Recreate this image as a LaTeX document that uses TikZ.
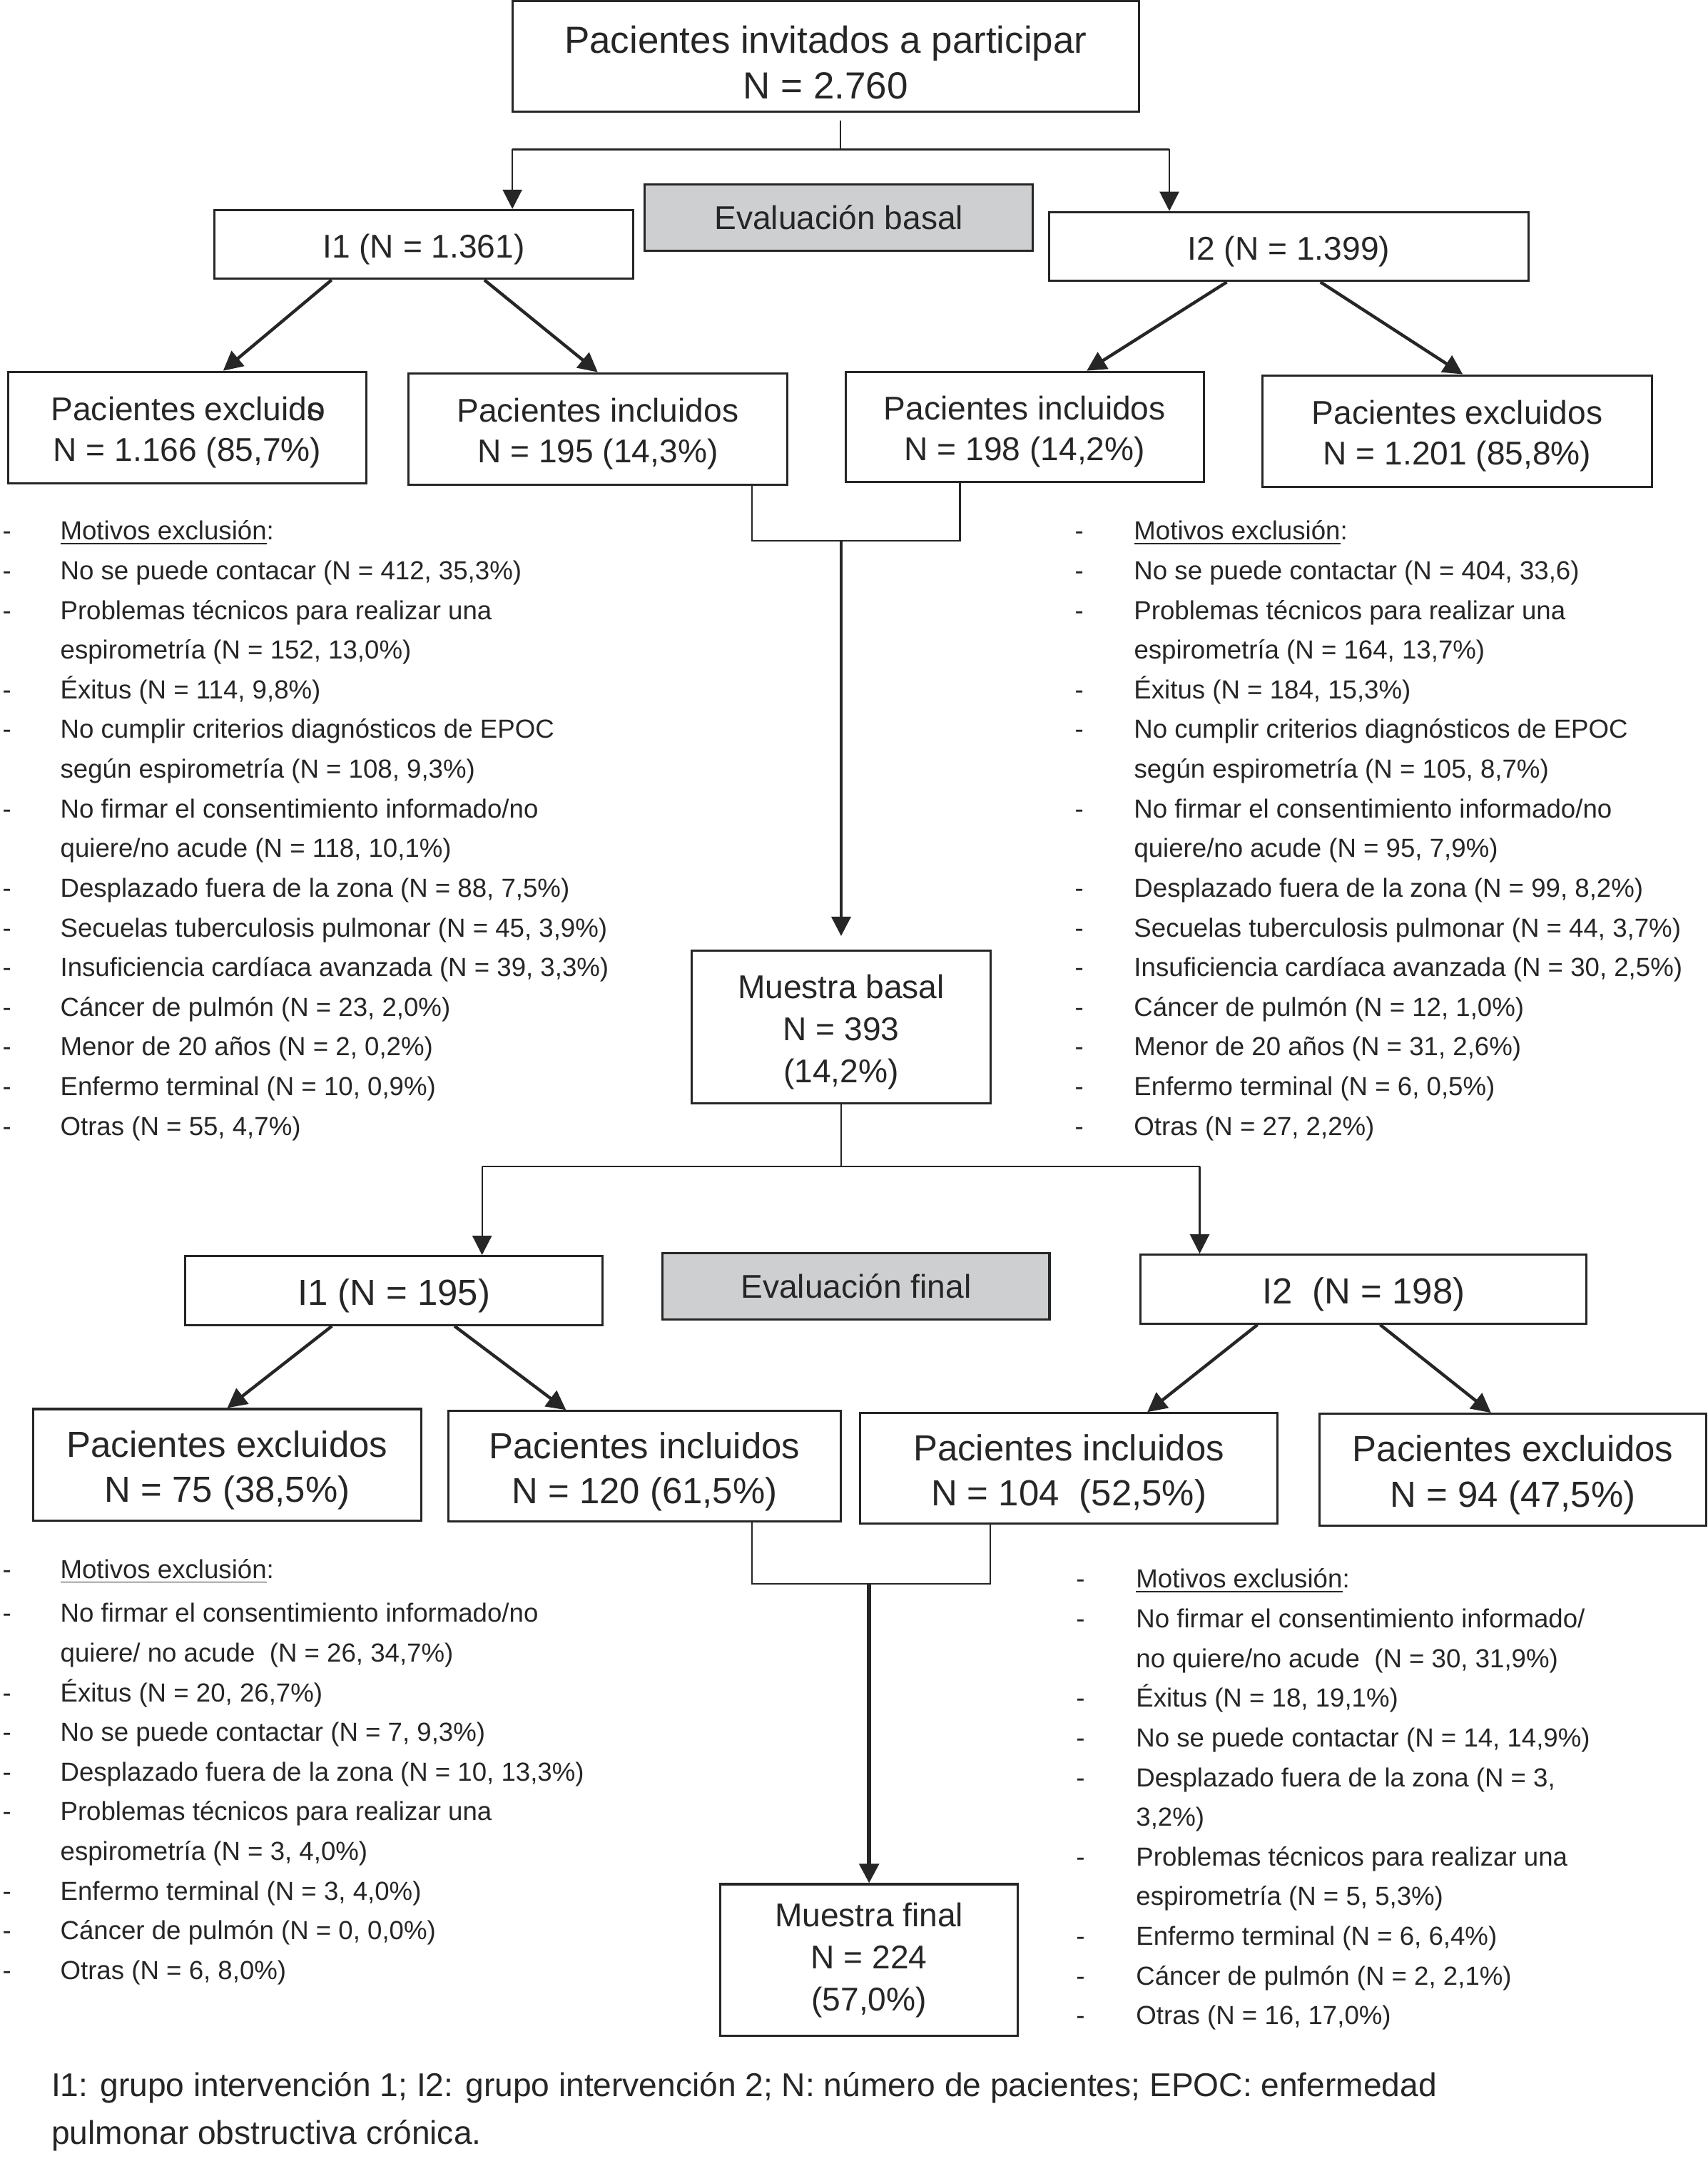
\documentclass[tikz,border=0pt]{standalone}
\usepackage{fontspec}
\setmainfont{Liberation Sans}
\usetikzlibrary{positioning,calc,arrows.meta}
\definecolor{ink}{RGB}{38,38,38}
\definecolor{boxgray}{RGB}{206,207,209}
\newcommand{\fbig}{\fontsize{15.6}{18.8}\selectfont}
\newcommand{\fmid}{\fontsize{13.6}{16.8}\selectfont}
\newcommand{\fend}{\fontsize{15}{18.8}\selectfont}
\newcommand{\fmues}{\fontsize{13.6}{17.4}\selectfont}
\newcommand{\flist}{\fontsize{10.8}{16.4}\selectfont}
\newcommand{\fnota}{\fontsize{13.6}{19.9}\selectfont}
\newcommand{\lift}{\rule{0pt}{1.03em}}
\newcommand{\motivos}{- & \underline{Motivos exclusión}:}

\begin{document}
\begin{tikzpicture}[x=0.02cm, y=-0.02cm, color=ink]
        \tikzstyle{plain} = [draw, rectangle, line width=0.9pt, inner sep=0pt, align=center, text=ink]
        \tikzstyle{rect} = [plain, execute at begin node={\lift}]
        \tikzstyle{filledrect} = [plain, fill=boxgray]
        \tikzstyle{lista} = [inner sep=0pt, anchor=base west, font=\flist, text=ink]
        \tikzstyle{arr} = [-{Triangle[length=8pt, width=8pt]}, line width=1.3pt]
        \tikzstyle{thinline} = [line width=0.65pt]
        \tikzstyle{thinarr} = [thinline, -{Triangle[length=8pt, width=8pt]}]
        \useasboundingbox (0,0) rectangle (1240,1569);

        \node (invit) [rect, minimum width=9.1cm, minimum height=1.6cm, font=\fbig] at (599.5,41) {\lift Pacientes invitados a participar\\N = 2.760};
        \node (evalb) [filledrect, minimum width=5.64cm, minimum height=0.96cm, font=\fmid] at (609,158) {Evaluación basal};
        \node (ione) [rect, minimum width=6.08cm, minimum height=1cm, font=\fmid] at (307.7,177.5) {I1 (N = 1.361)};
        \node (itwo) [rect, minimum width=6.96cm, minimum height=1cm, font=\fmid] at (935.7,179) {I2 (N = 1.399)};
        \node (exone) [rect, minimum width=5.2cm, minimum height=1.62cm, font=\fmid] at (136,310.5) {\lift Pacientes excluid\rlap{o}s\\N = 1.166 (85,7\%)};
        \node (inone) [rect, minimum width=5.5cm, minimum height=1.62cm, font=\fmid] at (434,311.5) {\lift Pacientes incluidos\\N = 195 (14,3\%)};
        \node (intwo) [rect, minimum width=5.2cm, minimum height=1.6cm, font=\fmid] at (744,310) {\lift Pacientes incluidos\\N = 198 (14,2\%)};
        \node (extwo) [rect, minimum width=5.66cm, minimum height=1.62cm, font=\fmid] at (1058,313) {\lift Pacientes excluidos\\N = 1.201 (85,8\%)};
        \node (basal) [rect, minimum width=4.34cm, minimum height=2.22cm, font=\fmues] at (610.7,745.5) {\lift Muestra basal\\N = 393\\(14,2\%)};

        \node (ionef) [rect, minimum width=6.06cm, minimum height=1cm, font=\fend] at (286,937) {I1 (N = 195)};
        \node (evalf) [filledrect, minimum width=5.62cm, minimum height=0.96cm, font=\fmid] at (621.5,934) {Evaluación final};
        \node (itwof) [rect, minimum width=6.48cm, minimum height=1cm, font=\fend] at (990,936) {I2~ (N = 198)};
        \node (exonef) [rect, minimum width=5.64cm, minimum height=1.62cm, font=\fend] at (165,1063.5) {\lift Pacientes excluidos\\N = 75 (38,5\%)};
        \node (inonef) [rect, minimum width=5.7cm, minimum height=1.6cm, font=\fend] at (468,1064.5) {\lift Pacientes incluidos\\N = 120 (61,5\%)};
        \node (intwof) [rect, minimum width=6.06cm, minimum height=1.6cm, font=\fend] at (776,1066) {\lift Pacientes incluidos\\N = 104~ (52,5\%)};
        \node (extwof) [rect, minimum width=5.62cm, minimum height=1.62cm, font=\fend] at (1098.5,1067) {\lift Pacientes excluidos\\N = 94 (47,5\%)};
        \node (final) [rect, minimum width=4.32cm, minimum height=2.2cm, font=\fmues] at (631,1423) {Muestra final\\N = 224\\(57,0\%)};

        \node (motone) [lista] at (1.5,392) {\begin{tabular}[t]{@{}p{0.84cm}@{}l@{}}
            \motivos \\
            - & No se puede contacar (N = 412, 35,3\%) \\
            - & Problemas técnicos para realizar una \\
              & espirometría (N = 152, 13,0\%) \\
            - & Éxitus (N = 114, 9,8\%) \\
            - & No cumplir criterios diagnósticos de EPOC \\
              & según espirometría (N = 108, 9,3\%) \\
            - & No firmar el consentimiento informado/no \\
              & quiere/no acude (N = 118, 10,1\%) \\
            - & Desplazado fuera de la zona (N = 88, 7,5\%) \\
            - & Secuelas tuberculosis pulmonar (N = 45, 3,9\%) \\
            - & Insuficiencia cardíaca avanzada (N = 39, 3,3\%) \\
            - & Cáncer de pulmón (N = 23, 2,0\%) \\
            - & Menor de 20 años (N = 2, 0,2\%) \\
            - & Enfermo terminal (N = 10, 0,9\%) \\
            - & Otras (N = 55, 4,7\%)
        \end{tabular}};
        \node (mottwo) [lista] at (780,392) {\begin{tabular}[t]{@{}p{0.86cm}@{}l@{}}
            \motivos \\
            - & No se puede contactar (N = 404, 33,6) \\
            - & Problemas técnicos para realizar una \\
              & espirometría (N = 164, 13,7\%) \\
            - & Éxitus (N = 184, 15,3\%) \\
            - & No cumplir criterios diagnósticos de EPOC \\
              & según espirometría (N = 105, 8,7\%) \\
            - & No firmar el consentimiento informado/no \\
              & quiere/no acude (N = 95, 7,9\%) \\
            - & Desplazado fuera de la zona (N = 99, 8,2\%) \\
            - & Secuelas tuberculosis pulmonar (N = 44, 3,7\%) \\
            - & Insuficiencia cardíaca avanzada (N = 30, 2,5\%) \\
            - & Cáncer de pulmón (N = 12, 1,0\%) \\
            - & Menor de 20 años (N = 31, 2,6\%) \\
            - & Enfermo terminal (N = 6, 0,5\%) \\
            - & Otras (N = 27, 2,2\%)
        \end{tabular}};
        \node (motonef) [lista] at (1.5,1146) {\begin{tabular}[t]{@{}p{0.84cm}@{}l@{}}
            \motivos \\[1.7pt]
            - & No firmar el consentimiento informado/no \\
              & quiere/ no acude~ (N = 26, 34,7\%) \\
            - & Éxitus (N = 20, 26,7\%) \\
            - & No se puede contactar (N = 7, 9,3\%) \\
            - & Desplazado fuera de la zona (N = 10, 13,3\%) \\
            - & Problemas técnicos para realizar una \\
              & espirometría (N = 3, 4,0\%) \\
            - & Enfermo terminal (N = 3, 4,0\%) \\
            - & Cáncer de pulmón (N = 0, 0,0\%) \\
            - & Otras (N = 6, 8,0\%)
        \end{tabular}};
        \node (mottwof) [lista] at (781,1153) {\begin{tabular}[t]{@{}p{0.87cm}@{}l@{}}
            \motivos \\
            - & No firmar el consentimiento informado/ \\
              & no quiere/no acude~ (N = 30, 31,9\%) \\
            - & Éxitus (N = 18, 19,1\%) \\
            - & No se puede contactar (N = 14, 14,9\%) \\
            - & Desplazado fuera de la zona (N = 3, \\
              & 3,2\%) \\
            - & Problemas técnicos para realizar una \\
              & espirometría (N = 5, 5,3\%) \\
            - & Enfermo terminal (N = 6, 6,4\%) \\
            - & Cáncer de pulmón (N = 2, 2,1\%) \\
            - & Otras (N = 16, 17,0\%)
        \end{tabular}};
        \node (nota) [inner sep=0pt, anchor=base west, font=\fnota, text=ink] at (37,1522) {\begin{tabular}[t]{@{}l@{}}
            I1: grupo intervención 1; I2: grupo intervención 2; N: número de pacientes; EPOC: enfermedad \\
            pulmonar obstructiva crónica.
        \end{tabular}};

        \coordinate (sL) at (372,108.5);
        \coordinate (sM) at (610,108.5);
        \coordinate (sR) at (849,108.5);
        \draw[thinline, shorten <=3.4pt] (invit.south -| sM) -- (sM);
        \draw[thinline] (sL) -- (sR);
        \draw[thinarr] (sL) -- (sL |- ione.north);
        \draw[thinarr] (sR) -- (sR |- itwo.north);
        \draw[arr] ($(ione.south)+(-67,0)$) -- ($(exone.north)+(26,0)$);
        \draw[arr] ($(ione.south)+(44,0)$) -- (inone.north);
        \draw[arr] ($(itwo.south)+(-45,0)$) -- ($(intwo.north)+(45,0)$);
        \draw[arr] ($(itwo.south)+(23,0)$) -- ($(extwo.north)+(4,0)$);

        \coordinate (jB) at (610.7,392.5);
        \draw[thinline] ($(inone.south)+(112,0)$) |- (jB) -| ($(intwo.south)+(-47,0)$);
        \draw[arr, line width=1.1pt, shorten >=5.5pt] (jB) -- (basal.north);

        \coordinate (cL) at (350,847);
        \coordinate (cR) at (871,847);
        \draw[thinline] (basal.south) -- (basal.south |- cL);
        \draw[thinline] (cL) -- (cR);
        \draw[thinarr] (cL) -- (cL |- ionef.north);
        \draw[thinarr] (cR) -- (cR |- itwof.north);
        \draw[arr] ($(ionef.south)+(-45,0)$) -- (exonef.north);
        \draw[arr] ($(ionef.south)+(44,0)$) -- ($(inonef.north)+(-57,0)$);
        \draw[arr] ($(itwof.south)+(-77,0)$) -- ($(intwof.north)+(57,0)$);
        \draw[arr] ($(itwof.south)+(12,0)$) -- ($(extwof.north)+(-16,0)$);

        \coordinate (jF) at (631,1150);
        \draw[thinline] ($(inonef.south)+(78,0)$) |- (jF) -| ($(intwof.south)+(-57,0)$);
        \draw[arr, line width=1.6pt] (jF) -- (final.north);
\end{tikzpicture}
\end{document}
